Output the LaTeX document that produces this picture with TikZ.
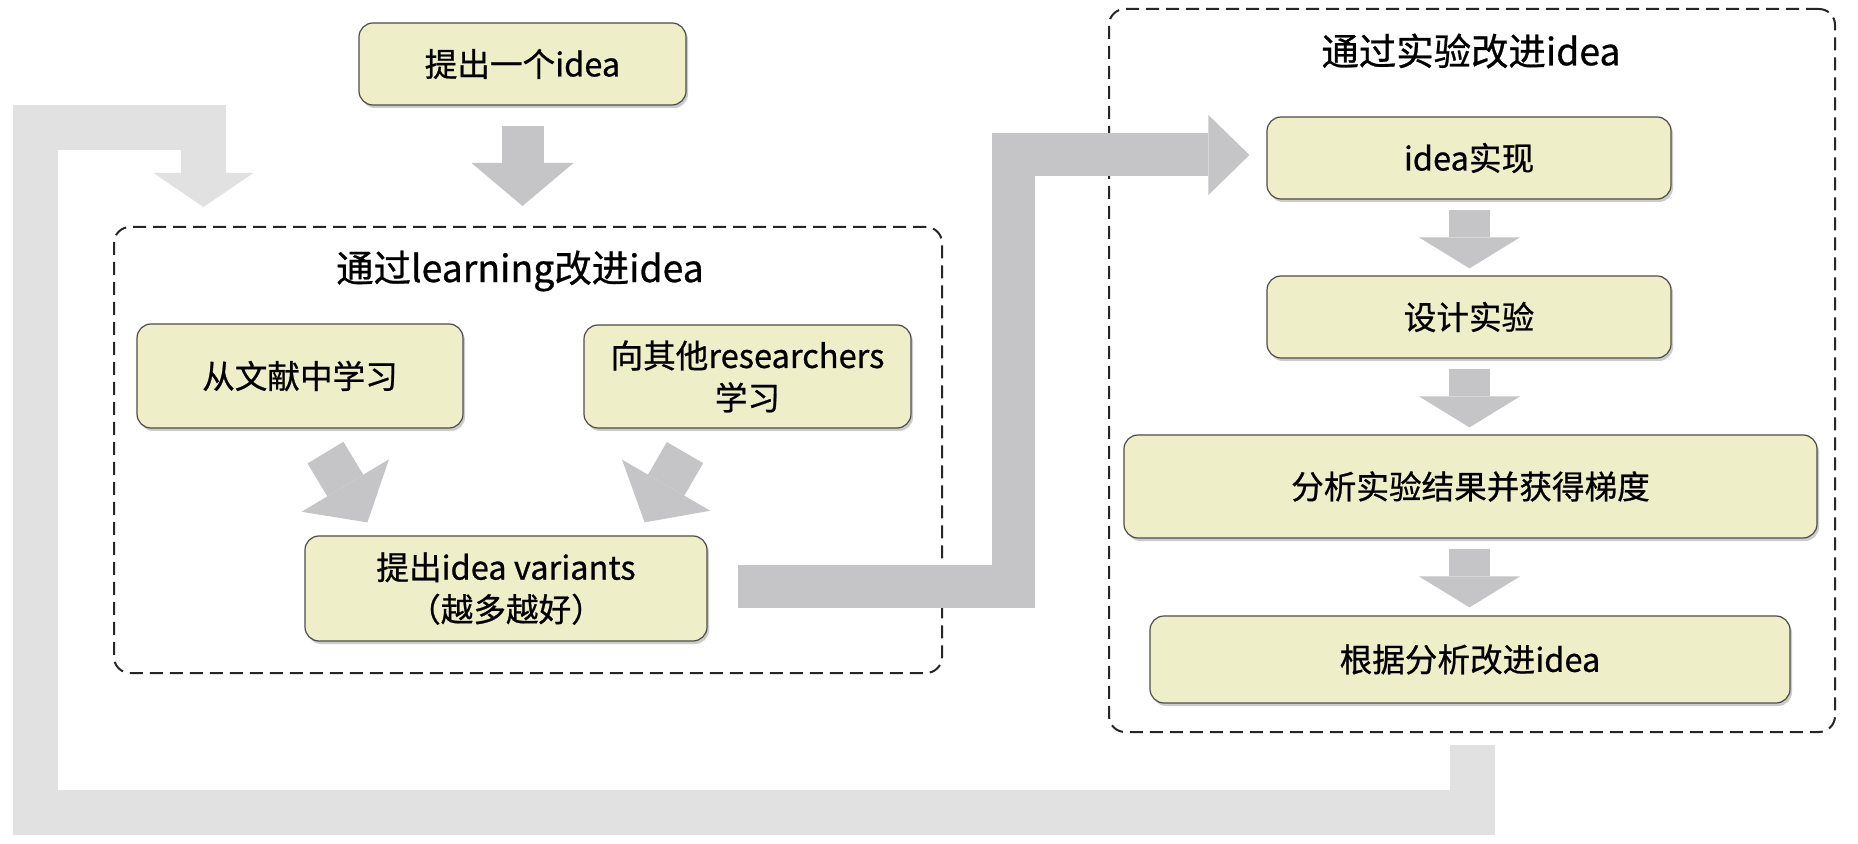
\documentclass[tikz,border=0pt]{standalone}
\usepackage{fontspec}
\setmainfont{Noto Sans CJK SC}[FakeBold=0.7]
\usetikzlibrary{arrows.meta,calc,shadows}
\definecolor{boxfill}{RGB}{238,238,200}
\definecolor{darkarrow}{RGB}{197,196,198}
\definecolor{lightarrow}{RGB}{225,225,225}
\begin{document}
\begin{tikzpicture}[x=0.5pt,y=-0.5pt,
  box/.style={rounded corners=7pt, fill=boxfill, draw=black!70, line width=0.6pt,
    drop shadow={shadow xshift=1pt, shadow yshift=-1.5pt, opacity=0.4},
    align=center, inner sep=0pt, font=\fontsize{16.3pt}{21pt}\selectfont},
  grp/.style={draw=black!85, line width=1pt, dash pattern=on 6.5pt off 3.5pt,
    rounded corners=8pt, inner sep=0pt},
  ttl/.style={inner sep=0pt, font=\fontsize{18.7pt}{22pt}\selectfont},
  fatdown/.style={draw=darkarrow, line width=21pt, line cap=butt,
    -{Triangle[width=51pt,length=21.5pt,line width=0pt]}},
  fatsmall/.style={draw=darkarrow, line width=20.5pt, line cap=butt,
    -{Triangle[width=50.5pt,length=15.5pt,line width=0pt]}},
  fatpath/.style={draw=darkarrow, line width=21.5pt, line cap=butt, line join=miter,
    -{Triangle[width=40pt,length=20.5pt,line width=0pt]}},
  feedback/.style={draw=lightarrow, line width=22.5pt, line cap=butt, line join=miter,
    -{Triangle[width=50pt,length=17pt,line width=0pt]}}
]
\fill[white] (0,0) rectangle (1858,844);
\useasboundingbox (0,0) rectangle (1858,844);

% groups
\node[grp, minimum width=414pt, minimum height=223pt] (grpA) at (528,450) {};
\node[grp, minimum width=363pt, minimum height=361.5pt] (grpB) at (1472,370.5) {};
\node[ttl] (ttlA) at ($(grpA.north)+(-8,45)$) {通过learning改进idea};
\node[ttl] (ttlB) at ($(grpB.north)+(-1,43)$) {通过实验改进idea};

% boxes
\node[box, minimum width=163.5pt, minimum height=41pt] (top) at (522.5,64) {提出一个idea};
\node[box, minimum width=163pt, minimum height=52pt] (lit) at (300,376) {从文献中学习};
\node[box, minimum width=163.5pt, minimum height=51.5pt] (res) at (747.5,376.5) {向其他researchers\\学习};
\node[box, minimum width=201pt, minimum height=52.5pt] (var) at (506,588.5) {提出idea variants\\（越多越好）};
\node[box, minimum width=202pt, minimum height=41pt] (impl) at (1469,158) {idea实现};
\node[box, minimum width=202pt, minimum height=41pt] (design) at (1469,317) {设计实验};
\node[box, minimum width=346.5pt, minimum height=51.5pt] (ana) at (1470.5,486.5) {分析实验结果并获得梯度};
\node[box, minimum width=320pt, minimum height=43.5pt] (imp) at (1470,659.5) {根据分析改进idea};

% arrows
\draw[fatdown] ($(top.south)+(0,20)$) -- ($(top.south |- grpA.north)+(0,-20)$);
\draw[fatdown] ($(lit.south)+(25.5,24)$) -- ($(var.north west)+(63,-13)$);
\draw[fatdown] ($(res.south)+(-62.5,24)$) -- ($(var.north east)+(-63,-13)$);
\draw[fatsmall] ($(impl.south)+(0.5,10)$) -- ($(design.north)+(0.5,-7)$);
\draw[fatsmall] ($(design.south)+(0.5,10)$) -- ($(design.south |- ana.north)+(0.5,-7)$);
\draw[fatsmall] ($(design.south |- ana.south)+(0.5,10)$) -- ($(design.south |- imp.north)+(0.5,-8)$);

\coordinate (d1) at ($(var.east)+(30,-2)$);
\coordinate (d2) at ($(impl.west)+(-17,-3)$);
\draw[fatpath] (d1) -- ($(d1)+(275.5,0)$) |- (d2);

\coordinate (l1) at ($(grpB.south)+(0,12)$);
\coordinate (l2) at ($(grpA.north west)+(90.5,-19)$);
\draw[feedback] (l1) -- ++(0,67) -| (35,127.5) -| (l2);
\end{tikzpicture}
\end{document}
